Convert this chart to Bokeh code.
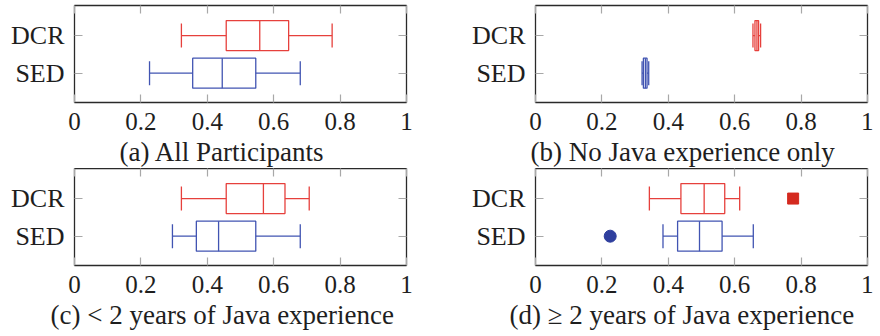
from bokeh.plotting import figure
from bokeh.layouts import column, row
from bokeh.models import Range1d, LinearAxis, FixedTicker, ColumnDataSource, Title
from bokeh.embed import file_html
from bokeh.resources import INLINE

# ---- data ----
groups = ["SED", "DCR"]
group_pos = [1, 2]
x_ticks = [0, 0.2, 0.4, 0.6, 0.8, 1]
x_tick_labels = ["0", "0.2", "0.4", "0.6", "0.8", "1"]
captions = [
    "(a) All Participants",
    "(b) No Java experience only",
    "(c) < 2 years of Java experience",
    "(d) \u2265 2 years of Java experience",
]
# [lower whisker, q1, median, q3, upper whisker]
a_sed = [0.226, 0.356, 0.445, 0.546, 0.680]
a_dcr = [0.322, 0.457, 0.558, 0.645, 0.776]
b_sed = [0.321, 0.325, 0.331, 0.336, 0.341]
b_dcr = [0.655, 0.661, 0.667, 0.672, 0.678]
c_sed = [0.295, 0.367, 0.434, 0.546, 0.680]
c_dcr = [0.322, 0.457, 0.569, 0.634, 0.707]
d_sed = [0.384, 0.428, 0.494, 0.562, 0.656]
d_dcr = [0.343, 0.438, 0.508, 0.570, 0.615]
d_sed_outliers = [0.225]
d_dcr_outliers = [0.776]

FONT = "Liberation Serif"
TEXT = "#1e1e1e"
RED = "#e6403c"
BLUE = "#4154b2"
RED_DARK = "#d42a1f"
BLUE_DARK = "#2f3f9e"
TICK_GRAY = "#a8a8a8"


def style_axis(ax):
    ax.axis_line_color = None
    ax.major_tick_in = 8
    ax.major_tick_out = 0
    ax.minor_tick_in = 0
    ax.minor_tick_out = 0
    ax.major_tick_line_color = TICK_GRAY
    ax.major_tick_line_width = 1.2


def make_panel(sed, dcr, caption, cap_shift, border_left, border_right,
               border_top, sed_out=None, dcr_out=None):
    p = figure(frame_width=332, frame_height=97,
               x_range=Range1d(0, 1), y_range=Range1d(0.22, 2.8),
               output_backend="svg", toolbar_location=None,
               min_border_left=border_left, min_border_right=border_right,
               min_border_top=border_top, min_border_bottom=0)
    p.grid.visible = False
    p.outline_line_color = "#2a2a2a"
    p.outline_line_width = 1.3

    xa = p.xaxis[0]
    xa.ticker = FixedTicker(ticks=x_ticks)
    xa.major_label_overrides = {t: l for t, l in zip(x_ticks, x_tick_labels)}
    xa.major_label_text_font = FONT
    xa.major_label_text_font_size = "25px"
    xa.major_label_text_color = TEXT
    xa.major_label_standoff = 10
    style_axis(xa)

    ya = p.yaxis[0]
    ya.ticker = FixedTicker(ticks=group_pos)
    ya.major_label_overrides = {g: n for g, n in zip(group_pos, groups)}
    ya.major_label_text_font = FONT
    ya.major_label_text_font_size = "26px"
    ya.major_label_text_color = TEXT
    ya.major_label_standoff = 10
    style_axis(ya)

    top = LinearAxis(ticker=FixedTicker(ticks=x_ticks))
    top.major_label_overrides = {t: "" for t in x_ticks}
    top.major_label_standoff = 0
    style_axis(top)
    p.add_layout(top, "above")
    right = LinearAxis(ticker=FixedTicker(ticks=group_pos))
    right.major_label_overrides = {g: "" for g in group_pos}
    right.major_label_standoff = 0
    style_axis(right)
    p.add_layout(right, "right")

    cap = Title(text=caption, align="left", offset=cap_shift,
                text_font=FONT, text_font_size="27px",
                text_font_style="normal", text_color=TEXT, standoff=4)
    p.add_layout(cap, "below")

    stats = list(zip(sed, dcr))
    src = ColumnDataSource(dict(
        y=group_pos,
        low=list(stats[0]), q1=list(stats[1]), med=list(stats[2]),
        q3=list(stats[3]), high=list(stats[4]),
        yb=[g - 0.4 for g in group_pos], yt=[g + 0.4 for g in group_pos],
        cb=[g - 0.32 for g in group_pos], ct=[g + 0.32 for g in group_pos],
        color=[BLUE, RED],
    ))
    lw = 1.3
    p.quad(left="q1", right="q3", bottom="yb", top="yt", source=src,
           fill_color=None, line_color="color", line_width=lw)
    p.segment(x0="med", y0="yb", x1="med", y1="yt", source=src,
              line_color="color", line_width=lw)
    p.segment(x0="low", y0="y", x1="q1", y1="y", source=src,
              line_color="color", line_width=lw)
    p.segment(x0="q3", y0="y", x1="high", y1="y", source=src,
              line_color="color", line_width=lw)
    p.segment(x0="low", y0="cb", x1="low", y1="ct", source=src,
              line_color="color", line_width=lw)
    p.segment(x0="high", y0="cb", x1="high", y1="ct", source=src,
              line_color="color", line_width=lw)

    if sed_out:
        p.scatter(x=sed_out, y=[group_pos[0]] * len(sed_out), marker="circle",
                  size=12, fill_color=BLUE_DARK, line_color=BLUE_DARK)
    if dcr_out:
        p.scatter(x=dcr_out, y=[group_pos[1]] * len(dcr_out), marker="square",
                  size=11, fill_color=RED_DARK, line_color=RED_DARK)
    return p


pa = make_panel(a_sed, a_dcr, captions[0], 45, 74, 34, 5)
pb = make_panel(b_sed, b_dcr, captions[1], -5, 95, 6, 5)
pc = make_panel(c_sed, c_dcr, captions[2], -24, 74, 34, 0)
pd = make_panel(d_sed, d_dcr, captions[3], -26, 95, 6, 0,
                sed_out=d_sed_outliers, dcr_out=d_dcr_outliers)

layout = column(row(pa, pb), row(pc, pd))
open("out.html", "w").write(file_html(layout, INLINE))
